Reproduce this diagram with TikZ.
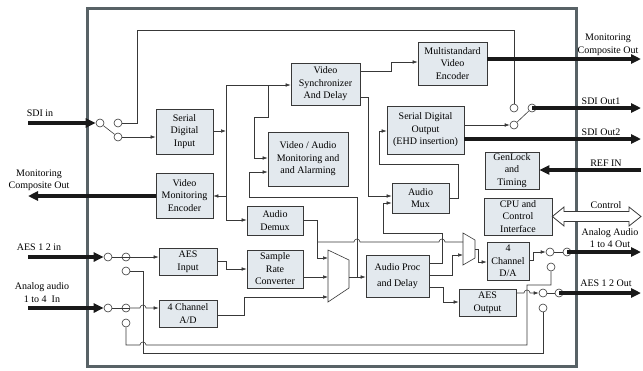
\documentclass[tikz,border=0pt]{standalone}
\usepackage{fontspec}
\setmainfont{Liberation Serif}
\usetikzlibrary{arrows.meta}

\definecolor{boxfill}{HTML}{E3E9EE}
\definecolor{framegray}{HTML}{586266}
\definecolor{wiregray}{HTML}{383838}

\begin{document}
\begin{tikzpicture}[x=1pt, y=-1pt,
  font=\fontsize{10}{12.5}\selectfont,
  blk/.style={draw=wiregray, fill=boxfill, line width=0.7pt, align=center, inner sep=0pt},
  wire/.style={draw=wiregray, line width=0.6pt},
  sig/.style={wire, -{Latex[length=5pt, width=3.6pt]}},
  fat/.style={draw=black!90, line width=4pt, -{Triangle[length=10pt, width=9pt]}},
  contact/.style={circle, draw=wiregray, fill=white, line width=0.6pt, minimum size=8pt, inner sep=0pt},
  lbl/.style={align=center, inner sep=0pt}]

\useasboundingbox (0,0) rectangle (643,370);
\draw[framegray, line width=3.5pt] (87.5,8.5) rectangle (576.5,366.5);

\node (sdiin) at (184.5,131.5) [blk, minimum width=57pt, minimum height=45pt] {Serial\\Digital\\Input};
\node (vmenc) at (184.5,195.5) [blk, minimum width=57pt, minimum height=45pt] {Video\\Monitoring\\Encoder};
\node (aesin) at (188,261.5) [blk, minimum width=58pt, minimum height=27pt] {AES\\Input};
\node (adc) at (188,313.5) [blk, minimum width=58pt, minimum height=27pt] {4 Channel\\A/D};
\node (vsync) at (325.5,84) [blk, minimum width=69pt, minimum height=42pt] {Video\\Synchronizer\\And Delay};
\node (vamon) at (308,159) [blk, minimum width=80pt, minimum height=54pt] {Video / Audio\\Monitoring and\\and Alarming};
\node (demux) at (275,220.5) [blk, minimum width=56pt, minimum height=29pt] {Audio\\Demux};
\node (src) at (275,269) [blk, minimum width=56pt, minimum height=38pt] {Sample\\Rate\\Converter};
\node (menc) at (452.5,63.5) [blk, minimum width=69pt, minimum height=43pt] {Multistandard\\Video\\Encoder};
\node (sdo) at (425.5,130) [blk, minimum width=77pt, minimum height=48pt] {Serial Digital\\Output\\(EHD insertion)};
\node (amux) at (420.5,198) [blk, minimum width=57pt, minimum height=30pt] {Audio\\Mux};
\node (aproc) at (397.5,276) [blk, minimum width=63pt, minimum height=42pt] {Audio Proc\\[4pt]and Delay};
\node (genlock) at (512,170.5) [blk, minimum width=54pt, minimum height=37pt] {GenLock\\and\\Timing};
\node (cpu) at (518,216.5) [blk, minimum width=68pt, minimum height=37pt] {CPU and\\Control\\Interface};
\node (dac) at (508,261) [blk, minimum width=42pt, minimum height=38pt] {4\\Channel\\D/A};
\node (aesout) at (487.5,302.5) [blk, minimum width=57pt, minimum height=27pt] {AES\\Output};

\draw[wire, fill=white] (328,250) -- (349,260) -- (349,288) -- (328,302) -- cycle;
\coordinate (mux1out) at (349,277);
\draw[wire, fill=white] (463,233) -- (475,240) -- (475,258) -- (463,265) -- cycle;
\coordinate (mux2out) at (475,249);

\node (sw1p) at (100,123) [contact] {};
\node (sw1a) at (118,123) [contact] {};
\node (sw1b) at (118,137) [contact] {};
\node (sw2a) at (514,108) [contact] {};
\node (sw2b) at (514,125) [contact] {};
\node (sw2c) at (532,108) [contact] {};
\node (ai1a) at (108,257) [contact] {};
\node (ai1b) at (126,257) [contact] {};
\node (ai1c) at (126,271) [contact] {};
\node (ai2a) at (108,308) [contact] {};
\node (ai2b) at (126,308) [contact] {};
\node (ai2c) at (126,323) [contact] {};
\node (ao1a) at (550,252) [contact] {};
\node (ao1b) at (567,252) [contact] {};
\node (ao1c) at (551,267) [contact] {};
\node (ao2a) at (543,293) [contact] {};
\node (ao2b) at (559,293) [contact] {};
\node (ao2c) at (543,308) [contact] {};

% video path
\draw[wire] (sw1p) -- (sw1b);
\draw[sig] (sw1b) -- (sw1b -| sdiin.west);
\draw[wire] (sw1a) -- (137,123) -- (137,30) -- (514,30) -- (sw2a);
\draw[sig] (sdiin.east |- 0,131) -- (226,131);
\draw[wire] (226,85) -- (226,220);
\draw[sig] (226,85) -- (vsync.west |- 0,85);
\draw[sig] (226,196) -- (vmenc.east |- 0,196);
\draw[sig] (226,220) -- (demux.west |- 0,220);
\draw[sig] (268,85) -- (268,117) -- (254,117) -- (254,158) -- (vamon.west |- 0,158);
\draw[sig] (357,277) -- (357,197) -- (249,197) -- (249,172) -- (vamon.west |- 0,172);
\draw[sig] (vsync.east |- 0,71) -- (391,71) -- (391,62) -- (menc.west |- 0,62);
\draw[sig] (vsync.east |- 0,97) -- (368,97) -- (368,196) -- (amux.west |- 0,196);
\draw[sig] (amux.east) -- (458,198) -- (458,164) -- (379,164) -- (379,131) -- (sdo.west |- 0,131);
\draw[sig] (sdo.east |- sw2b) -- (sw2b);
\draw[wire] (sw2b) -- (sw2c);
\fill[black] (514,59) circle (2);

% audio path
\draw[wire] (ai1a) -- (ai1b.east);
\draw[sig] (ai1b.east) -- (ai1b -| aesin.west);
\draw[wire] (ai2a) -- (ai2b.east);
\draw[sig] (ai2b.east) -- (140,308) arc[start angle=180, end angle=360, radius=3] -- (ai2b -| adc.west);
\draw[sig] (aesin.east |- 0,261) -- (226,261) -- (226,269) -- (src.west |- 0,269);
\draw[sig] (adc.east |- 0,315) -- (244,315) -- (244,297) -- (328,297);
\draw[sig] (demux.east) -- (317,220.5) -- (317,258) -- (328,258);
\draw[wire] (317,242) -- (354,242) arc[start angle=180, end angle=360, radius=3] -- (439,242) arc[start angle=180, end angle=360, radius=3] -- (463,242);
\draw[sig] (src.east |- 0,277) -- (328,277);
\draw[sig] (mux1out) -- (aproc.west |- mux1out);
\draw[sig] (aproc.east |- 0,263) -- (442,263) -- (442,233) -- (383,233) -- (383,203) -- (amux.west |- 0,203);
\draw[sig] (aproc.east |- 0,275) -- (452,275) -- (452,255) -- (463,255);
\draw[sig] (aproc.east |- 0,287) -- (443,287) -- (443,302) -- (aesout.west |- 0,302);
\draw[sig] (mux2out) -- (478,249) -- (478,262) -- (dac.west |- 0,262);
\draw[sig] (dac.east |- 0,260) -- (533,260) -- (533,252) -- (ao1a);
\draw[wire] (ao1a) -- (ao1b);
\draw[sig] (aesout.east |- ao2a) -- (524,293) arc[start angle=180, end angle=360, radius=3] -- (ao2a);
\draw[wire] (ao2a) -- (ao2b);
\draw[wire] (ao1c) |- (527,285) -- (527,345) -- (146,345) arc[start angle=0, end angle=-180, radius=3] -- (ai2c |- 0,345) -- (ai2c);
\draw[wire] (ao2c) -- (ao2c |- 0,353) -- (143,353) -- (143,271) -- (ai1c);

% outside connections
\draw[fat] (28,123) -- (sw1p);
\draw[fat] (vmenc.west |- 0,196) -- (28,196);
\draw[fat] (28,257) -- (ai1a);
\draw[fat] (28,308) -- (ai2a);
\draw[fat] (menc.east |- 0,59) -- (641,59);
\draw[fat] (sw2c.center) -- (641,108);
\draw[fat] (sdo.east |- 0,139) -- (641,139);
\draw[fat] (641,170) -- (genlock.east |- 0,170);
\draw[fat] (ao1b.center) -- (641,252);
\draw[fat] (ao2b.center) -- (641,293);
\draw[wire, fill=white, line width=0.8pt] (cpu.east) -- (564,207) -- (564,211.5) -- (629,211.5) -- (629,207) -- (641,216.5) -- (629,226) -- (629,221.5) -- (564,221.5) -- (564,226) -- cycle;

\node (lsdiin) at (40,113) [lbl] {SDI in};
\node (lmonl) at (39,180.5) [lbl] {Monitoring\\Composite Out};
\node (laesin) at (39,247) [lbl] {AES 1 2 in};
\node (lanain) at (42,292.5) [lbl] {Analog audio\\1 to 4\ \ In};
\node (lmonr) at (608,45) [lbl] {Monitoring\\Composite Out};
\node (lsdo1) at (601,101) [lbl] {SDI Out1};
\node (lsdo2) at (601,132) [lbl] {SDI Out2};
\node (lref) at (606,163) [lbl] {REF IN};
\node (lctl) at (606,205) [lbl] {Control};
\node (lanaout) at (610,238) [lbl] {Analog Audio\\1 to 4 Out};
\node (laesout) at (606,283) [lbl] {AES 1 2 Out};
\end{tikzpicture}
\end{document}
